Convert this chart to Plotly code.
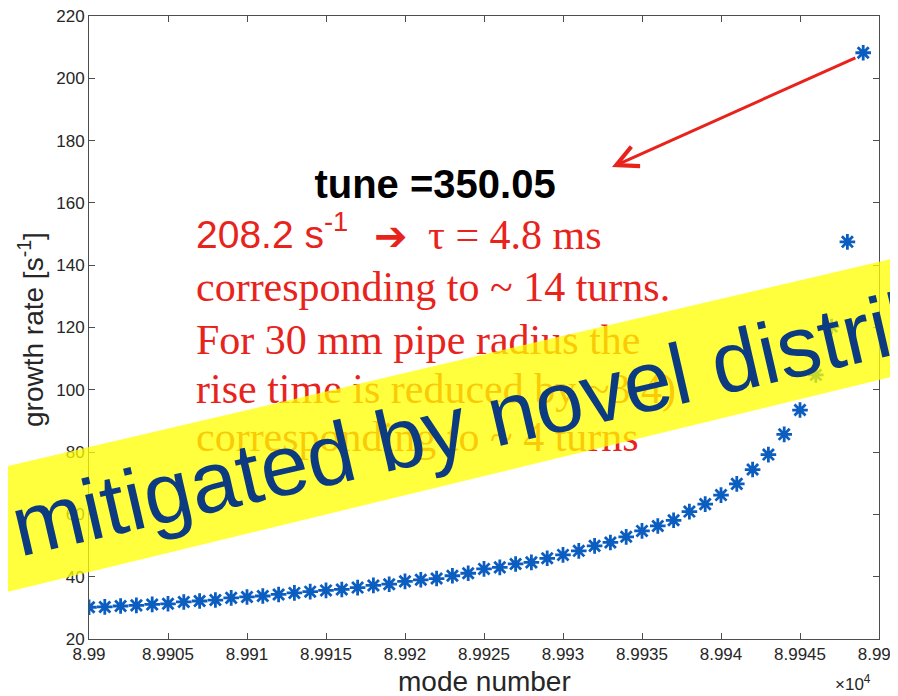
import plotly.graph_objects as go

# ---------------- data ----------------
mode_number = [89900, 89901, 89902, 89903, 89904, 89905, 89906, 89907, 89908, 89909,
               89910, 89911, 89912, 89913, 89914, 89915, 89916, 89917, 89918, 89919,
               89920, 89921, 89922, 89923, 89924, 89925, 89926, 89927, 89928, 89929,
               89930, 89931, 89932, 89933, 89934, 89935, 89936, 89937, 89938, 89939,
               89940, 89941, 89942, 89943, 89944, 89945, 89946, 89947, 89948, 89949]
growth_rate = [30.2, 30.3, 30.6, 30.8, 31.1, 31.3, 31.9, 32.2, 32.5, 33.2,
               33.5, 33.8, 34.3, 34.8, 35.2, 35.6, 35.9, 36.5, 37.2, 37.6,
               38.5, 39.0, 39.4, 40.3, 41.1, 42.5, 43.0, 44.1, 44.6, 45.9,
               47.0, 48.3, 49.9, 51.0, 52.8, 54.7, 56.3, 58.1, 60.9, 63.3,
               66.2, 69.8, 74.4, 79.2, 85.7, 93.5, 104.8, 120.3, 147.5, 208.2]

x_tick_vals = [89900, 89905, 89910, 89915, 89920, 89925, 89930, 89935, 89940, 89945, 89950]
x_tick_text = ["8.99", "8.9905", "8.991", "8.9915", "8.992", "8.9925",
               "8.993", "8.9935", "8.994", "8.9945", "8.995"]
y_tick_vals = [20, 40, 60, 80, 100, 120, 140, 160, 180, 200, 220]

# ---------------- geometry helpers ----------------
# the page body has an 8px margin: the figure starts at (8, 8) in the window
OX, OY = 8, 8
W, H = 898 - OX, 696 - OY
L = 89 - OX
T = 16 - OY
R = W - (879 - OX)
B = H - (639 - OY)
PW = W - L - R
PH = H - T - B


def px(x):  # window pixel -> paper fraction
    return (x - OX - L) / PW


def py(y):
    return (H - B - (y - OY)) / PH


RED = "#e8231c"
SANS = "Liberation Sans, Arial, Helvetica, sans-serif"
SERIF = "Liberation Serif, Times New Roman, serif"
AX = "#4d4d4d"
TXT = "#262626"

fig = go.Figure()

fig.add_trace(go.Scatter(
    x=mode_number, y=growth_rate, mode="markers",
    marker=dict(symbol="asterisk-open", size=13, color="#0b5ec0",
                line=dict(width=2.8, color="#0b5ec0")),
    showlegend=False, hoverinfo="skip",
))

# red / black explanatory text (drawn as traces so the banner covers it)
texts = [
    ("<b>tune =350.05</b>", px(435), py(188), "middle center", SANS, 40, "black"),
    ("208.2 s<sup>-1</sup>", px(196), py(238), "middle right", SANS, 39, RED),
    ("<b>\u2794</b>", px(374), py(240), "middle right", "DejaVu Sans", 40, RED),
    ("\u03c4 = 4.8 ms", px(428), py(238), "middle right", SERIF, 42, RED),
    ("corresponding to ~ 14 turns.", px(196), py(290), "middle right", SERIF, 42, RED),
    ("For 30 mm pipe radius the", px(196), py(343), "middle right", SERIF, 42, RED),
    ("rise time is reduced by ~3.4)", px(196), py(392), "middle right", SERIF, 42, RED),
    ("corresponding to ~ 4 turns", px(196), py(440), "middle right", SERIF, 42, RED),
]
for txt, tx, ty, pos, fam, size, col in texts:
    fig.add_trace(go.Scatter(
        x=[tx], y=[ty], xaxis="x2", yaxis="y2", mode="text", text=[txt],
        textposition=pos, textfont=dict(family=fam, size=size, color=col),
        showlegend=False, hoverinfo="skip", cliponaxis=False,
    ))

# yellow semi-transparent banner
pts = [(0, 468), (912, 254), (912, 372), (7, 592)]
path = "M " + " L ".join(f"{px(a):.5f},{py(b):.5f}" for a, b in pts) + " Z"
fig.add_shape(type="path", path=path, xref="paper", yref="paper",
              fillcolor="rgba(255,255,0,0.76)", line=dict(width=0), layer="above")

annotations = [
    dict(text="mitigated by novel distrib", x=px(474), y=py(421), xref="paper", yref="paper",
         xanchor="center", yanchor="middle", showarrow=False, textangle=-13,
         font=dict(family=SANS, size=86, color="#0d3b82")),
    # red arrow pointing away from the last point
    dict(x=89933.1, y=171.5, ax=mode_number[-1] - 0.4, ay=growth_rate[-1] - 1.4,
         xref="x", yref="y", axref="x", ayref="y", text="", showarrow=True,
         arrowhead=5, arrowsize=1.4, arrowwidth=3, arrowcolor=RED),
    dict(text="growth rate [s<sup>-1</sup>]", x=px(31), y=py(330), xref="paper", yref="paper",
         xanchor="center", yanchor="middle", showarrow=False, textangle=-90,
         font=dict(family=SANS, size=28, color=TXT)),
    dict(text="mode number", x=px(484), y=py(681), xref="paper", yref="paper",
         xanchor="center", yanchor="middle", showarrow=False,
         font=dict(family=SANS, size=28, color=TXT)),
    dict(text="\u00d710<sup>4</sup>", x=px(853), y=py(683), xref="paper", yref="paper",
         xanchor="center", yanchor="middle", showarrow=False,
         font=dict(family=SANS, size=17, color=TXT)),
]

fig.update_layout(
    width=W, height=H,
    margin=dict(l=L, r=R, t=T, b=B, pad=0, autoexpand=False),
    paper_bgcolor="white", plot_bgcolor="white",
    font=dict(family=SANS, color=TXT),
    xaxis=dict(range=[89900, 89950], tickvals=x_tick_vals, ticktext=x_tick_text,
               ticks="inside", ticklen=6, tickcolor=AX, showline=True, linecolor=AX,
               linewidth=1, mirror="ticks", showgrid=False, zeroline=False,
               ticklabeloverflow="allow", automargin=False,
               tickfont=dict(family=SANS, size=17, color=TXT)),
    yaxis=dict(range=[20, 220], tickvals=y_tick_vals,
               ticks="inside", ticklen=6, tickcolor=AX, showline=True, linecolor=AX,
               linewidth=1, mirror="ticks", showgrid=False, zeroline=False,
               ticklabeloverflow="allow", automargin=False,
               tickfont=dict(family=SANS, size=17, color=TXT)),
    xaxis2=dict(range=[0, 1], overlaying="x", visible=False, fixedrange=True),
    yaxis2=dict(range=[0, 1], overlaying="y", visible=False, fixedrange=True),
    annotations=annotations,
)

fig.write_html("out.html")
